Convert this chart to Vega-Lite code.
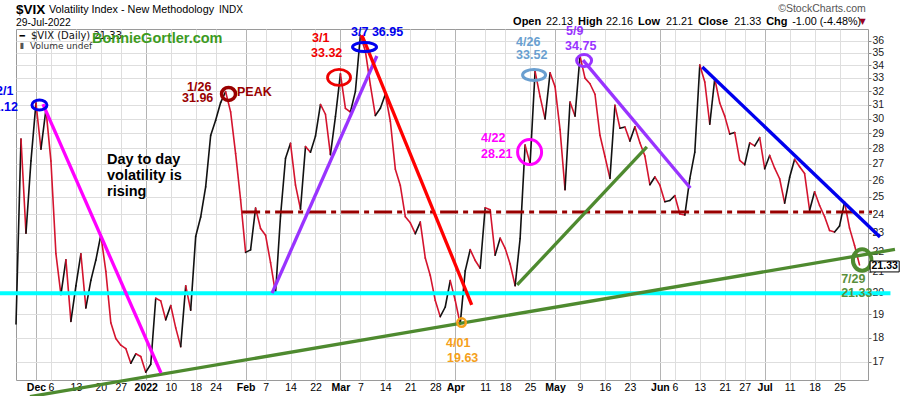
{
  "$schema": "https://vega.github.io/schema/vega-lite/v6.json",
  "width": 852,
  "height": 351,
  "autosize": {"type": "none"},
  "padding": {"left": 16, "top": 29, "right": 32, "bottom": 16},
  "background": "white",
  "config": {"view": {"stroke": "#9a9a9a", "strokeWidth": 1}},
  "resolve": {"scale": {"color": "independent"}},
  "datasets": {
    "vix": [
      {"t":-4,"v":18.58},{"t":-3,"v":28.62},{"t":-2,"v":22.96},{"t":-1,"v":27.19},{"t":0,"v":31.12},
      {"t":1,"v":27.95},{"t":2,"v":30.67},{"t":3,"v":27.18},{"t":4,"v":21.89},{"t":5,"v":19.90},
      {"t":6,"v":21.58},{"t":7,"v":18.69},{"t":8,"v":20.31},{"t":9,"v":21.89},{"t":10,"v":19.29},
      {"t":11,"v":20.57},{"t":12,"v":21.57},{"t":13,"v":22.87},{"t":14,"v":21.01},{"t":15,"v":18.63},
      {"t":16,"v":17.96},{"t":17,"v":17.68},{"t":18,"v":17.54},{"t":19,"v":16.95},{"t":20,"v":17.33},
      {"t":21,"v":17.22},{"t":22,"v":16.60},{"t":23,"v":16.91},{"t":24,"v":19.73},{"t":25,"v":19.61},
      {"t":26,"v":18.76},{"t":27,"v":19.40},{"t":28,"v":18.41},{"t":29,"v":17.62},{"t":30,"v":20.31},
      {"t":31,"v":19.19},{"t":32,"v":22.79},{"t":33,"v":23.85},{"t":34,"v":25.59},{"t":35,"v":28.85},
      {"t":36,"v":29.90},{"t":37,"v":31.16},{"t":38,"v":31.96},{"t":39,"v":30.49},{"t":40,"v":27.66},
      {"t":41,"v":24.83},{"t":42,"v":21.96},{"t":43,"v":22.09},{"t":44,"v":24.35},{"t":45,"v":23.22},
      {"t":46,"v":22.86},{"t":47,"v":21.44},{"t":48,"v":19.96},{"t":49,"v":23.91},{"t":50,"v":27.36},
      {"t":51,"v":28.33},{"t":52,"v":25.70},{"t":53,"v":24.29},{"t":54,"v":28.11},{"t":55,"v":27.75},
      {"t":56,"v":28.81},{"t":57,"v":31.02},{"t":58,"v":30.32},{"t":59,"v":27.59},{"t":60,"v":30.15},
      {"t":61,"v":33.32},{"t":62,"v":30.74},{"t":63,"v":30.48},{"t":64,"v":31.98},{"t":65,"v":36.45},
      {"t":66,"v":35.13},{"t":67,"v":32.45},{"t":68,"v":30.23},{"t":69,"v":30.75},{"t":70,"v":31.77},
      {"t":71,"v":29.83},{"t":72,"v":26.67},{"t":73,"v":25.67},{"t":74,"v":23.87},{"t":75,"v":23.53},
      {"t":76,"v":22.94},{"t":77,"v":23.57},{"t":78,"v":21.67},{"t":79,"v":20.81},{"t":80,"v":19.63},
      {"t":81,"v":18.90},{"t":82,"v":19.33},{"t":83,"v":20.56},{"t":84,"v":19.63},{"t":85,"v":18.57},
      {"t":86,"v":21.03},{"t":87,"v":22.10},{"t":88,"v":21.55},{"t":89,"v":21.16},{"t":90,"v":24.37},
      {"t":91,"v":24.26},{"t":92,"v":21.82},{"t":93,"v":22.70},{"t":94,"v":22.17},{"t":95,"v":21.37},
      {"t":96,"v":20.32},{"t":97,"v":22.68},{"t":98,"v":28.21},{"t":99,"v":27.02},{"t":100,"v":33.52},
      {"t":101,"v":31.60},{"t":102,"v":29.99},{"t":103,"v":33.40},{"t":104,"v":32.34},{"t":105,"v":29.25},
      {"t":106,"v":25.42},{"t":107,"v":31.20},{"t":108,"v":30.19},{"t":109,"v":34.75},{"t":110,"v":32.99},
      {"t":111,"v":32.56},{"t":112,"v":31.77},{"t":113,"v":28.87},{"t":114,"v":27.47},{"t":115,"v":26.10},
      {"t":116,"v":30.96},{"t":117,"v":29.35},{"t":118,"v":29.43},{"t":119,"v":28.48},{"t":120,"v":29.45},
      {"t":121,"v":28.37},{"t":122,"v":27.50},{"t":123,"v":25.72},{"t":124,"v":26.19},{"t":125,"v":25.69},
      {"t":126,"v":24.72},{"t":127,"v":24.79},{"t":128,"v":25.07},{"t":129,"v":24.02},{"t":130,"v":23.96},
      {"t":131,"v":26.09},{"t":132,"v":27.75},{"t":133,"v":34.02},{"t":134,"v":32.69},{"t":135,"v":29.62},
      {"t":136,"v":32.95},{"t":137,"v":31.13},{"t":138,"v":30.19},{"t":139,"v":28.95},{"t":140,"v":29.05},
      {"t":141,"v":27.23},{"t":142,"v":26.95},{"t":143,"v":28.36},{"t":144,"v":28.16},{"t":145,"v":28.71},
      {"t":146,"v":26.70},{"t":147,"v":27.54},{"t":148,"v":26.73},{"t":149,"v":26.08},{"t":150,"v":24.64},
      {"t":151,"v":26.17},{"t":152,"v":27.29},{"t":153,"v":26.82},{"t":154,"v":26.40},{"t":155,"v":24.23},
      {"t":156,"v":25.30},{"t":157,"v":24.50},{"t":158,"v":23.88},{"t":159,"v":23.11},{"t":160,"v":23.03},
      {"t":161,"v":23.36},{"t":162,"v":24.69},{"t":163,"v":23.24},{"t":164,"v":22.33},{"t":165,"v":21.33}
    ],
    "trend": [
      {"id":"greenLong","t":-1.2,"v":15.68,"t2":172.1,"v2":22.11},
      {"id":"greenShort","t":96.4,"v":20.35,"t2":122.4,"v2":28.09},
      {"id":"magenta","t":1.4,"v":31.05,"t2":25.05,"v2":16.57},
      {"id":"purple1","t":47.3,"v":19.97,"t2":68.3,"v2":34.74},
      {"id":"purple2","t":109.6,"v":34.41,"t2":131.1,"v2":25.52},
      {"id":"red","t":65.3,"v":36.48,"t2":87.3,"v2":19.43},
      {"id":"blue","t":133.5,"v":33.86,"t2":169.1,"v2":22.76}
    ],
    "levels": [
      {"id":"cyan","t":-7.3,"v":19.96,"t2":171.2,"v2":19.96},
      {"id":"resist","t":41.3,"v":24.13,"t2":167.5,"v2":24.13}
    ],
    "rings": [
      {"id":"dec1","t":0.7,"v":30.98},
      {"id":"jan26","t":38.58,"v":31.79},
      {"id":"mar1","t":60.72,"v":33.04},
      {"id":"mar7","t":65.83,"v":35.47},
      {"id":"apr26","t":99.8,"v":33.23},
      {"id":"apr22","t":98.9,"v":27.76},
      {"id":"may9","t":109.82,"v":34.37},
      {"id":"apr1","t":85.27,"v":18.64},
      {"id":"jul29","t":165.53,"v":21.57}
    ],
    "notes": [
      {"who":"dec1","t":-9.4,"v":32.01,"s":"12/1"},
      {"who":"dec1","t":-9.9,"v":30.84,"s":"31.12"},
      {"who":"jan26","t":30.26,"v":32.3,"s":"1/26"},
      {"who":"jan26","t":29.26,"v":31.5,"s":"31.96"},
      {"who":"jan26","t":40.28,"v":31.94,"s":"PEAK"},
      {"who":"mar1","t":55.31,"v":36.27,"s":"3/1"},
      {"who":"mar1","t":55.11,"v":35.02,"s":"33.32"},
      {"who":"mar7","t":63.13,"v":36.74,"s":"3/7 36.95"},
      {"who":"apr26","t":96.19,"v":35.89,"s":"4/26"},
      {"who":"apr26","t":96.19,"v":34.82,"s":"33.52"},
      {"who":"may9","t":106.21,"v":36.82,"s":"5/9"},
      {"who":"may9","t":106.01,"v":35.56,"s":"34.75"},
      {"who":"apr22","t":89.18,"v":28.68,"s":"4/22"},
      {"who":"apr22","t":89.18,"v":27.63,"s":"28.21"},
      {"who":"apr1","t":82.16,"v":17.77,"s":"4/01"},
      {"who":"apr1","t":82.36,"v":17.16,"s":"19.63"},
      {"who":"jul29","t":161.32,"v":20.64,"s":"7/29"},
      {"who":"jul29","t":161.32,"v":19.97,"s":"21.33"}
    ],
    "body": [
      {"t":14.23,"v":27.25,"s":"Day to day"},
      {"t":14.23,"v":26.25,"s":"volatility is"},
      {"t":14.23,"v":25.28,"s":"rising"}
    ],
    "hdr": [
      {"k":"sym","t":-4.01,"v":38.72,"s":"$VIX"},
      {"k":"name","t":2.61,"v":38.72,"s":"Volatility Index - New Methodology"},
      {"k":"indx","t":36.67,"v":38.72,"s":"INDX"},
      {"k":"date","t":-4.01,"v":37.52,"s":"29-Jul-2022"},
      {"k":"copy","t":148.7,"v":38.81,"s":"©StockCharts.com"},
      {"k":"lab","t":95.59,"v":37.61,"s":"Open"},
      {"k":"val","t":102.2,"v":37.61,"s":"22.13"},
      {"k":"lab","t":108.62,"v":37.61,"s":"High"},
      {"k":"val","t":114.23,"v":37.61,"s":"22.16"},
      {"k":"lab","t":120.64,"v":37.61,"s":"Low"},
      {"k":"val","t":126.25,"v":37.61,"s":"21.21"},
      {"k":"lab","t":132.67,"v":37.61,"s":"Close"},
      {"k":"val","t":139.88,"v":37.61,"s":"21.33"},
      {"k":"lab","t":146.29,"v":37.61,"s":"Chg"},
      {"k":"val","t":151.5,"v":37.61,"s":"-1.00 (-4.48%)"},
      {"k":"tri","t":165.0,"v":37.61,"s":"▼"},
      {"k":"legicon","t":-3.3,"v":36.44,"s":"━"},
      {"k":"leg","t":-1.0,"v":36.44,"s":"$VIX (Daily) 21.33"},
      {"k":"volicon","t":-3.3,"v":35.56,"s":"▮"},
      {"k":"vol","t":-1.2,"v":35.56,"s":"Volume undef"},
      {"k":"bonnie","t":11.22,"v":36.14,"s":"BonnieGortler.com"}
    ],
    "box": [
      {"t":167.13,"v":21.52,"t2":172.95,"v2":20.98,"tc":170.04,"vc":21.25,"s":"21.33"}
    ]
  },
  "encoding": {
    "x": {
      "field": "t", "type": "quantitative",
      "scale": {"domain": [-4, 166.7], "nice": false, "zero": false},
      "axis": {
        "title": null,
        "values": [0,3,8,13,17,22,27,32,36,42,46,51,56,61,65,70,75,80,84,90,94,99,104,109,114,119,125,128,133,138,142,146,151,156,161],
        "labelExpr": "['Dec','6','13','20','27','2022','10','18','24','Feb','7','14','22','Mar','7','14','21','28','Apr','11','18','25','May','9','16','23','Jun','6','13','21','27','Jul','11','18','25'][indexof([0,3,8,13,17,22,27,32,36,42,46,51,56,61,65,70,75,80,84,90,94,99,104,109,114,119,125,128,133,138,142,146,151,156,161], datum.value)]",
        "labelFont": "Liberation Sans",
        "labelFontSize": 10.5,
        "labelColor": "#000000",
        "labelFontWeight": {"condition": {"test": "indexof([0,22,42,61,84,104,125,146], datum.value) >= 0", "value": "bold"}, "value": "normal"},
        "labelOverlap": false,
        "labelFlush": false,
        "labelBound": false,
        "labelPadding": 2,
        "ticks": false,
        "domain": false,
        "grid": true,
        "gridColor": {"condition": {"test": "indexof([0,22,42,61,84,104,125,146], datum.value) >= 0", "value": "#b4b4b4"}, "value": "#dedede"}
      }
    },
    "y": {
      "field": "v", "type": "quantitative",
      "scale": {"type": "log", "domain": [16.3, 37], "nice": false},
      "axis": {
        "orient": "right",
        "title": null,
        "values": [17,18,19,20,21,22,23,24,25,26,27,28,29,30,31,32,33,34,35,36],
        "format": "d",
        "labelFont": "Liberation Sans",
        "labelFontSize": 10.5,
        "labelColor": "#222222",
        "labelOverlap": false,
        "labelPadding": 1,
        "tickSize": 3,
        "tickColor": "#888888",
        "domain": false,
        "grid": true,
        "gridColor": "#dedede"
      }
    }
  },
  "layer": [
    {
      "data": {"name": "vix"},
      "transform": [
        {"window": [{"op": "lead", "field": "v", "as": "v2"}, {"op": "lead", "field": "t", "as": "t2"}], "sort": [{"field": "t"}]},
        {"filter": "isValid(datum.v2)"}
      ],
      "mark": {"type": "rule", "strokeWidth": 1.6, "strokeCap": "round"},
      "encoding": {
        "x2": {"field": "t2"},
        "y2": {"field": "v2"},
        "color": {"condition": {"test": "datum.v2 >= datum.v", "value": "#111111"}, "value": "#d4142e"}
      }
    },
    {
      "data": {"name": "levels"},
      "transform": [{"filter": "datum.id == 'cyan'"}],
      "mark": {"type": "rule", "strokeWidth": 4, "color": "#00ffff", "clip": false},
      "encoding": {"x2": {"field": "t2"}, "y2": {"field": "v2"}}
    },
    {
      "data": {"name": "levels"},
      "transform": [{"filter": "datum.id == 'resist'"}],
      "mark": {"type": "rule", "strokeWidth": 3, "color": "#990000", "strokeDash": [18, 5, 5, 5], "clip": false},
      "encoding": {"x2": {"field": "t2"}, "y2": {"field": "v2"}}
    },
    {
      "data": {"name": "trend"},
      "mark": {"type": "rule", "strokeWidth": 3.3, "clip": false},
      "encoding": {
        "x2": {"field": "t2"},
        "y2": {"field": "v2"},
        "color": {
          "field": "id", "type": "nominal", "legend": null,
          "scale": {
            "domain": ["greenLong","greenShort","magenta","purple1","purple2","red","blue"],
            "range": ["#4e8a2f","#4e8a2f","#ff00ff","#9933ff","#9933ff","#ff0000","#0000ee"]
          }
        }
      }
    },
    {
      "data": {"name": "rings"},
      "transform": [{"filter": "datum.id == 'dec1'"}],
      "mark": {"type": "point", "filled": false, "size": 225, "strokeWidth": 3, "color": "#0000ee", "opacity": 1,
        "shape": "M-1,0C-1,-0.368 -0.552,-0.667 0,-0.667C0.552,-0.667 1,-0.368 1,0C1,0.368 0.552,0.667 0,0.667C-0.552,0.667 -1,0.368 -1,0Z"}
    },
    {
      "data": {"name": "rings"},
      "transform": [{"filter": "datum.id == 'jan26'"}],
      "mark": {"type": "point", "filled": false, "size": 196, "strokeWidth": 3.5, "color": "#990000", "opacity": 1,
        "shape": "M-1,0C-1,-0.513 -0.552,-0.929 0,-0.929C0.552,-0.929 1,-0.513 1,0C1,0.513 0.552,0.929 0,0.929C-0.552,0.929 -1,0.513 -1,0Z"}
    },
    {
      "data": {"name": "rings"},
      "transform": [{"filter": "datum.id == 'mar1'"}],
      "mark": {"type": "point", "filled": false, "size": 529, "strokeWidth": 2.8, "color": "#ee0000", "opacity": 1,
        "shape": "M-1,0C-1,-0.384 -0.552,-0.696 0,-0.696C0.552,-0.696 1,-0.384 1,0C1,0.384 0.552,0.696 0,0.696C-0.552,0.696 -1,0.384 -1,0Z"}
    },
    {
      "data": {"name": "rings"},
      "transform": [{"filter": "datum.id == 'mar7'"}],
      "mark": {"type": "point", "filled": false, "size": 576, "strokeWidth": 3, "color": "#0000ee", "opacity": 1,
        "shape": "M-1,0C-1,-0.207 -0.552,-0.375 0,-0.375C0.552,-0.375 1,-0.207 1,0C1,0.207 0.552,0.375 0,0.375C-0.552,0.375 -1,0.207 -1,0Z"}
    },
    {
      "data": {"name": "rings"},
      "transform": [{"filter": "datum.id == 'apr26'"}],
      "mark": {"type": "point", "filled": false, "size": 529, "strokeWidth": 3, "color": "#6a9fd0", "opacity": 1,
        "shape": "M-1,0C-1,-0.264 -0.552,-0.478 0,-0.478C0.552,-0.478 1,-0.264 1,0C1,0.264 0.552,0.478 0,0.478C-0.552,0.478 -1,0.264 -1,0Z"}
    },
    {
      "data": {"name": "rings"},
      "transform": [{"filter": "datum.id == 'apr22'"}],
      "mark": {"type": "point", "filled": false, "size": 576, "strokeWidth": 3, "color": "#ff00ff", "opacity": 1,
        "shape": "M-1,0C-1,-0.574 -0.552,-1.04 0,-1.04C0.552,-1.04 1,-0.574 1,0C1,0.574 0.552,1.04 0,1.04C-0.552,1.04 -1,0.574 -1,0Z"}
    },
    {
      "data": {"name": "rings"},
      "transform": [{"filter": "datum.id == 'may9'"}],
      "mark": {"type": "point", "filled": false, "size": 225, "strokeWidth": 3, "color": "#9933ff", "opacity": 1,
        "shape": "M-1,0C-1,-0.442 -0.552,-0.8 0,-0.8C0.552,-0.8 1,-0.442 1,0C1,0.442 0.552,0.8 0,0.8C-0.552,0.8 -1,0.442 -1,0Z"}
    },
    {
      "data": {"name": "rings"},
      "transform": [{"filter": "datum.id == 'apr1'"}],
      "mark": {"type": "point", "filled": false, "size": 72, "strokeWidth": 2.5, "color": "#f5a01a", "opacity": 1,
        "shape": "M-1,0C-1,-0.552 -0.552,-1 0,-1C0.552,-1 1,-0.552 1,0C1,0.552 0.552,1 0,1C-0.552,1 -1,0.552 -1,0Z"}
    },
    {
      "data": {"name": "rings"},
      "transform": [{"filter": "datum.id == 'jul29'"}],
      "mark": {"type": "point", "filled": false, "size": 342, "strokeWidth": 4, "color": "#4e8a2f", "opacity": 1,
        "shape": "M-1,0C-1,-0.641 -0.552,-1.16 0,-1.16C0.552,-1.16 1,-0.641 1,0C1,0.641 0.552,1.16 0,1.16C-0.552,1.16 -1,0.641 -1,0Z"}
    },
    {
      "data": {"name": "notes"},
      "mark": {"type": "text", "align": "left", "baseline": "middle", "font": "Liberation Sans", "fontSize": 12.5, "fontWeight": "bold", "clip": false},
      "encoding": {
        "text": {"field": "s"},
        "color": {
          "field": "who", "type": "nominal", "legend": null,
          "scale": {
            "domain": ["dec1","jan26","mar1","mar7","apr26","apr22","may9","apr1","jul29"],
            "range": ["#0000ee","#990000","#f00000","#0000ee","#6a9fd0","#ff00ff","#9933ff","#f5a01a","#5a8f3c"]
          }
        }
      }
    },
    {
      "data": {"name": "body"},
      "mark": {"type": "text", "align": "left", "baseline": "middle", "font": "Liberation Sans", "fontSize": 14.5, "fontWeight": "bold", "color": "#000000"},
      "encoding": {"text": {"field": "s"}}
    },
    {
      "data": {"name": "hdr"},
      "transform": [{"filter": "datum.k == 'sym'"}],
      "mark": {"type": "text", "align": "left", "baseline": "middle", "font": "Liberation Sans", "fontSize": 13.5, "fontWeight": "bold", "color": "#000000", "clip": false},
      "encoding": {"text": {"field": "s"}}
    },
    {
      "data": {"name": "hdr"},
      "transform": [{"filter": "datum.k == 'name'"}],
      "mark": {"type": "text", "align": "left", "baseline": "middle", "font": "Liberation Sans", "fontSize": 10.8, "color": "#000000", "clip": false},
      "encoding": {"text": {"field": "s"}}
    },
    {
      "data": {"name": "hdr"},
      "transform": [{"filter": "datum.k == 'indx'"}],
      "mark": {"type": "text", "align": "left", "baseline": "middle", "font": "Liberation Sans", "fontSize": 10, "color": "#000000", "clip": false},
      "encoding": {"text": {"field": "s"}}
    },
    {
      "data": {"name": "hdr"},
      "transform": [{"filter": "datum.k == 'date'"}],
      "mark": {"type": "text", "align": "left", "baseline": "middle", "font": "Liberation Sans", "fontSize": 10.4, "color": "#000000", "clip": false},
      "encoding": {"text": {"field": "s"}}
    },
    {
      "data": {"name": "hdr"},
      "transform": [{"filter": "datum.k == 'copy'"}],
      "mark": {"type": "text", "align": "left", "baseline": "middle", "font": "Liberation Sans", "fontSize": 10.5, "color": "#555555", "clip": false},
      "encoding": {"text": {"field": "s"}}
    },
    {
      "data": {"name": "hdr"},
      "transform": [{"filter": "datum.k == 'lab'"}],
      "mark": {"type": "text", "align": "left", "baseline": "middle", "font": "Liberation Sans", "fontSize": 11, "fontWeight": "bold", "color": "#000000", "clip": false},
      "encoding": {"text": {"field": "s"}}
    },
    {
      "data": {"name": "hdr"},
      "transform": [{"filter": "datum.k == 'val'"}],
      "mark": {"type": "text", "align": "left", "baseline": "middle", "font": "Liberation Sans", "fontSize": 10.8, "color": "#000000", "clip": false},
      "encoding": {"text": {"field": "s"}}
    },
    {
      "data": {"name": "hdr"},
      "transform": [{"filter": "datum.k == 'tri'"}],
      "mark": {"type": "text", "align": "left", "baseline": "middle", "font": "DejaVu Sans", "fontSize": 8, "color": "#990022", "clip": false},
      "encoding": {"text": {"field": "s"}}
    },
    {
      "data": {"name": "hdr"},
      "transform": [{"filter": "datum.k == 'legicon'"}],
      "mark": {"type": "text", "align": "left", "baseline": "middle", "font": "DejaVu Sans", "fontSize": 9, "fontWeight": "bold", "color": "#000000"},
      "encoding": {"text": {"field": "s"}}
    },
    {
      "data": {"name": "hdr"},
      "transform": [{"filter": "datum.k == 'leg'"}],
      "mark": {"type": "text", "align": "left", "baseline": "middle", "font": "DejaVu Sans", "fontSize": 10, "color": "#111111"},
      "encoding": {"text": {"field": "s"}}
    },
    {
      "data": {"name": "hdr"},
      "transform": [{"filter": "datum.k == 'volicon'"}],
      "mark": {"type": "text", "align": "left", "baseline": "middle", "font": "DejaVu Sans", "fontSize": 8, "color": "#555555"},
      "encoding": {"text": {"field": "s"}}
    },
    {
      "data": {"name": "hdr"},
      "transform": [{"filter": "datum.k == 'vol'"}],
      "mark": {"type": "text", "align": "left", "baseline": "middle", "font": "DejaVu Sans", "fontSize": 9, "color": "#333333"},
      "encoding": {"text": {"field": "s"}}
    },
    {
      "data": {"name": "hdr"},
      "transform": [{"filter": "datum.k == 'bonnie'"}],
      "mark": {"type": "text", "align": "left", "baseline": "middle", "font": "Liberation Sans", "fontSize": 14.5, "fontWeight": "bold", "color": "#3d9b1f"},
      "encoding": {"text": {"field": "s"}}
    },
    {
      "data": {"name": "box"},
      "mark": {"type": "rect", "fill": "#ffffff", "stroke": "#000000", "strokeWidth": 1, "clip": false},
      "encoding": {"x2": {"field": "t2"}, "y2": {"field": "v2"}}
    },
    {
      "data": {"name": "box"},
      "mark": {"type": "text", "align": "center", "baseline": "middle", "font": "Liberation Sans", "fontSize": 10.5, "fontWeight": "bold", "color": "#000000", "clip": false},
      "encoding": {"x": {"field": "tc", "type": "quantitative"}, "y": {"field": "vc", "type": "quantitative"}, "text": {"field": "s"}}
    }
  ]
}
